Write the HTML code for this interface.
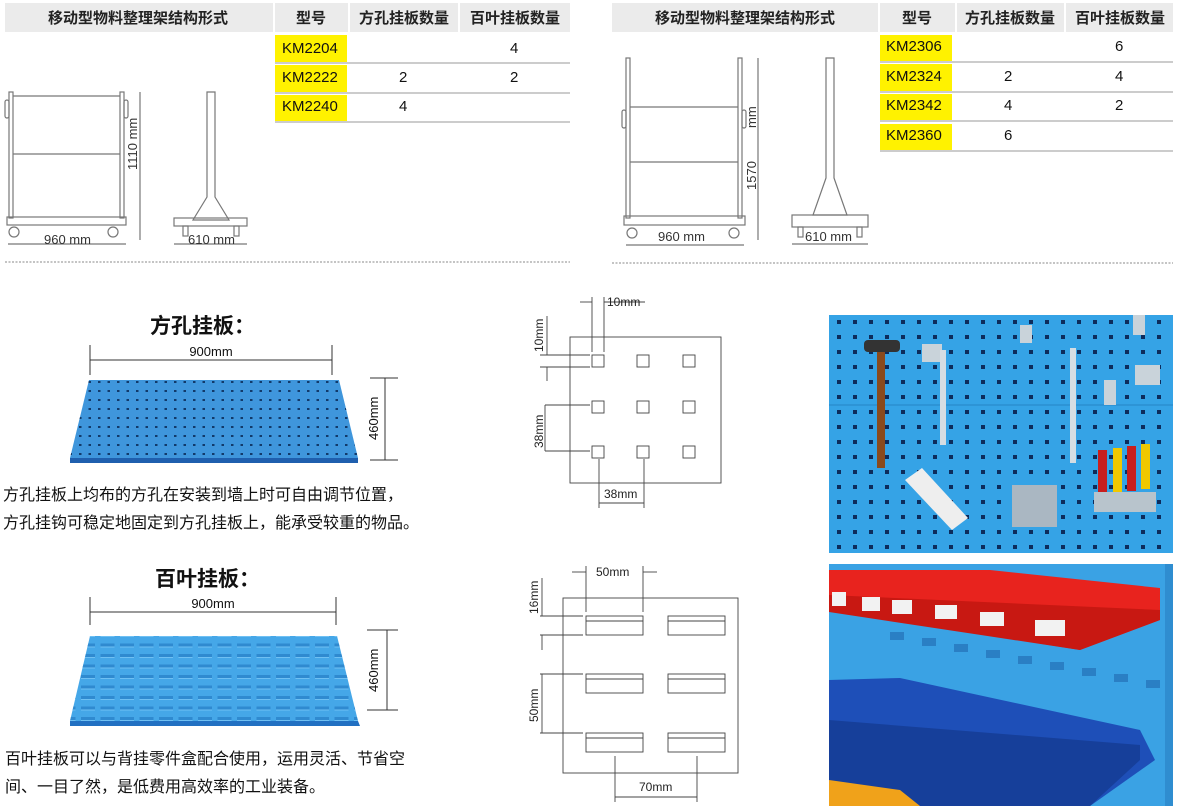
<!DOCTYPE html>
<html><head><meta charset="utf-8">
<style>
html,body{margin:0;padding:0;background:#fff;}
body{width:1180px;height:807px;overflow:hidden;position:relative;font-family:"Liberation Sans","Noto Sans CJK SC",sans-serif;}
.t{position:absolute;white-space:nowrap;color:#111;}
</style></head><body>
<svg width="1180" height="807" viewBox="0 0 1180 807" xmlns="http://www.w3.org/2000/svg" style="position:absolute;left:0;top:0" font-family="Liberation Sans, Noto Sans CJK SC, sans-serif">
<defs>
<pattern id="holes" x="0" y="0" width="9.5" height="9" patternUnits="userSpaceOnUse"><rect x="3" y="3" width="2.5" height="2" fill="#123a6a"/></pattern>
<pattern id="slots" x="0" y="0" width="19.5" height="10.5" patternUnits="userSpaceOnUse"><rect x="3" y="3" width="14" height="3" fill="#2f8ad0"/><rect x="3" y="6" width="14" height="1" fill="#6fc0f3"/></pattern>
<pattern id="ph" x="0" y="0" width="16" height="15" patternUnits="userSpaceOnUse"><rect x="5" y="5" width="4" height="4" fill="#0d2c5c"/></pattern>
</defs>

<!-- Table headers -->
<g font-weight="bold" font-size="15" fill="#222" text-anchor="middle">
<rect x="5" y="3" width="268" height="29" fill="#ebebeb"/>
<rect x="275" y="3" width="73" height="29" fill="#ebebeb"/>
<rect x="350" y="3" width="108" height="29" fill="#ebebeb"/>
<rect x="460" y="3" width="110" height="29" fill="#ebebeb"/>
<text x="138" y="23">移动型物料整理架结构形式</text>
<text x="311" y="23">型号</text>
<text x="404" y="23">方孔挂板数量</text>
<text x="515" y="23">百叶挂板数量</text>

<rect x="612" y="3" width="266" height="29" fill="#ebebeb"/>
<rect x="880" y="3" width="75" height="29" fill="#ebebeb"/>
<rect x="957" y="3" width="107" height="29" fill="#ebebeb"/>
<rect x="1066" y="3" width="107" height="29" fill="#ebebeb"/>
<text x="745" y="23">移动型物料整理架结构形式</text>
<text x="917" y="23">型号</text>
<text x="1010" y="23">方孔挂板数量</text>
<text x="1120" y="23">百叶挂板数量</text>
</g>

<!-- left rows -->
<g font-size="15" fill="#111">
<rect x="275" y="35" width="72" height="27" fill="#fff200"/>
<rect x="275" y="65" width="72" height="27" fill="#fff200"/>
<rect x="275" y="95" width="72" height="26" fill="#fff200"/>
<line x1="275" y1="63" x2="570" y2="63" stroke="#999"/>
<line x1="275" y1="93" x2="570" y2="93" stroke="#999"/>
<line x1="275" y1="122" x2="570" y2="122" stroke="#999"/>
<text x="282" y="53">KM2204</text><text x="282" y="82">KM2222</text><text x="282" y="111">KM2240</text>
<text x="510" y="53">4</text><text x="399" y="82">2</text><text x="510" y="82">2</text><text x="399" y="111">4</text>

<rect x="880" y="35" width="72" height="26" fill="#fff200"/>
<rect x="880" y="64" width="72" height="27" fill="#fff200"/>
<rect x="880" y="94" width="72" height="26" fill="#fff200"/>
<rect x="880" y="124" width="72" height="26" fill="#fff200"/>
<line x1="880" y1="62" x2="1173" y2="62" stroke="#999"/>
<line x1="880" y1="92" x2="1173" y2="92" stroke="#999"/>
<line x1="880" y1="121" x2="1173" y2="121" stroke="#999"/>
<line x1="880" y1="151" x2="1173" y2="151" stroke="#999"/>
<text x="886" y="51">KM2306</text><text x="886" y="81">KM2324</text><text x="886" y="110">KM2342</text><text x="886" y="140">KM2360</text>
<text x="1115" y="51">6</text><text x="1004" y="81">2</text><text x="1115" y="81">4</text><text x="1004" y="110">4</text><text x="1115" y="110">2</text><text x="1004" y="140">6</text>
</g>

<!-- dashed separators -->
<line x1="5" y1="262" x2="570" y2="262" stroke="#888" stroke-dasharray="2,1.5"/>
<line x1="612" y1="263" x2="1173" y2="263" stroke="#888" stroke-dasharray="2,1.5"/>

<!-- left frame drawing -->
<g fill="none" stroke="#777" stroke-width="1.2">
<rect x="9" y="92" width="4" height="126"/><rect x="120" y="92" width="4" height="126"/>
<line x1="13" y1="96" x2="120" y2="96"/><line x1="13" y1="154" x2="120" y2="154"/>
<rect x="5" y="100" width="4" height="18" rx="2"/><rect x="124" y="100" width="4" height="18" rx="2"/>
<rect x="7" y="217" width="119" height="8"/>
<circle cx="14" cy="232" r="5"/><circle cx="113" cy="232" r="5"/>
<line x1="140" y1="92" x2="140" y2="240"/>
<line x1="8" y1="244" x2="126" y2="244"/>
<path d="M207 92 h8 v105 l14 23 h-36 l14 -23 z"/>
<rect x="174" y="218" width="73" height="8"/>
<rect x="183" y="226" width="5" height="10"/><rect x="234" y="226" width="5" height="10"/>
<line x1="174" y1="244" x2="247" y2="244"/>
</g>
<g font-size="13" fill="#333">
<text x="44" y="244">960 mm</text>
<text x="188" y="244">610 mm</text>
<text transform="translate(137,170) rotate(-90)">1110 mm</text>
</g>

<!-- right frame drawing -->
<g fill="none" stroke="#777" stroke-width="1.2">
<rect x="626" y="58" width="4" height="160"/><rect x="738" y="58" width="4" height="160"/>
<line x1="630" y1="107" x2="738" y2="107"/><line x1="630" y1="162" x2="738" y2="162"/>
<rect x="622" y="110" width="4" height="18" rx="2"/><rect x="742" y="110" width="4" height="18" rx="2"/>
<rect x="624" y="216" width="121" height="9"/>
<circle cx="632" cy="233" r="5"/><circle cx="734" cy="233" r="5"/>
<line x1="758" y1="58" x2="758" y2="240"/>
<line x1="626" y1="245" x2="744" y2="245"/>
<path d="M826 58 h8 v120 l13 37 h-34 l13 -37 z"/>
<rect x="792" y="215" width="76" height="12"/>
<rect x="798" y="227" width="5" height="10"/><rect x="857" y="227" width="5" height="10"/>
<line x1="792" y1="244" x2="868" y2="244"/>
</g>
<g font-size="13" fill="#333">
<text x="658" y="241">960 mm</text>
<text x="805" y="241">610 mm</text>
<text transform="translate(756,128) rotate(-90)">mm</text>
<text transform="translate(756,190) rotate(-90)">1570</text>
</g>

<!-- square hole panel -->
<text x="150" y="333" font-size="21" font-weight="bold" fill="#111">方孔挂板：</text>
<line x1="90" y1="360" x2="332" y2="360" stroke="#333"/>
<line x1="90" y1="345" x2="90" y2="375" stroke="#333"/><line x1="332" y1="345" x2="332" y2="375" stroke="#333"/>
<text x="211" y="356" font-size="13" text-anchor="middle" fill="#111">900mm</text>
<polygon points="89,380 339,380 358,458 70,458" fill="#3f96dc"/>
<polygon points="89,380 339,380 358,458 70,458" fill="url(#holes)"/>
<polygon points="70,458 358,458 358,463 70,463" fill="#1f5fae"/>
<line x1="385" y1="378" x2="385" y2="460" stroke="#333"/>
<line x1="370" y1="378" x2="398" y2="378" stroke="#333"/><line x1="370" y1="460" x2="398" y2="460" stroke="#333"/>
<text transform="translate(378,440) rotate(-90)" font-size="13" fill="#111">460mm</text>
<text x="3" y="500" font-size="16" fill="#111">方孔挂板上均布的方孔在安装到墙上时可自由调节位置，</text>
<text x="3" y="528" font-size="16" fill="#111">方孔挂钩可稳定地固定到方孔挂板上，能承受较重的物品。</text>

<!-- louver panel -->
<text x="155" y="586" font-size="21" font-weight="bold" fill="#111">百叶挂板：</text>
<line x1="90" y1="612" x2="336" y2="612" stroke="#333"/>
<line x1="90" y1="597" x2="90" y2="625" stroke="#333"/><line x1="336" y1="597" x2="336" y2="625" stroke="#333"/>
<text x="213" y="608" font-size="13" text-anchor="middle" fill="#111">900mm</text>
<polygon points="90,636 337,636 358,721 70,721" fill="#45a7e8"/>
<polygon points="90,636 337,636 358,721 70,721" fill="url(#slots)"/>
<polygon points="70,721 358,721 360,726 70,726" fill="#2170c2"/>
<line x1="387" y1="630" x2="387" y2="710" stroke="#333"/>
<line x1="367" y1="630" x2="398" y2="630" stroke="#333"/><line x1="367" y1="710" x2="398" y2="710" stroke="#333"/>
<text transform="translate(378,692) rotate(-90)" font-size="13" fill="#111">460mm</text>
<text x="5" y="764" font-size="16" fill="#111">百叶挂板可以与背挂零件盒配合使用，运用灵活、节省空</text>
<text x="5" y="792" font-size="16" fill="#111">间、一目了然，是低费用高效率的工业装备。</text>

<!-- square hole diagram -->
<g fill="none" stroke="#444" stroke-width="0.9">
<rect x="570" y="337" width="151" height="146"/>
<rect x="592" y="355" width="12" height="12"/><rect x="637" y="355" width="12" height="12"/><rect x="683" y="355" width="12" height="12"/>
<rect x="592" y="401" width="12" height="12"/><rect x="637" y="401" width="12" height="12"/><rect x="683" y="401" width="12" height="12"/>
<rect x="592" y="446" width="12" height="12"/><rect x="637" y="446" width="12" height="12"/><rect x="683" y="446" width="12" height="12"/>
<line x1="592" y1="297" x2="592" y2="352"/><line x1="604" y1="297" x2="604" y2="352"/>
<line x1="580" y1="302" x2="592" y2="302"/><line x1="604" y1="302" x2="645" y2="302"/>
<line x1="540" y1="355" x2="590" y2="355"/><line x1="540" y1="367" x2="590" y2="367"/>
<line x1="547" y1="316" x2="547" y2="355"/><line x1="547" y1="367" x2="547" y2="381"/>
<line x1="545" y1="405" x2="590" y2="405"/><line x1="545" y1="451" x2="590" y2="451"/>
<line x1="545" y1="405" x2="545" y2="451"/>
<line x1="599" y1="459" x2="599" y2="508"/><line x1="644" y1="459" x2="644" y2="508"/>
<line x1="599" y1="503" x2="644" y2="503"/>
</g>
<g font-size="12" fill="#222">
<text x="607" y="306">10mm</text>
<text transform="translate(543,352) rotate(-90)">10mm</text>
<text transform="translate(543,448) rotate(-90)">38mm</text>
<text x="604" y="498">38mm</text>
</g>

<!-- louver diagram -->
<g fill="none" stroke="#444" stroke-width="0.9">
<rect x="563" y="598" width="175" height="175"/>
<rect x="586" y="616" width="57" height="19"/><line x1="586" y1="621" x2="643" y2="621"/>
<rect x="668" y="616" width="57" height="19"/><line x1="668" y1="621" x2="725" y2="621"/>
<rect x="586" y="674" width="57" height="19"/><line x1="586" y1="679" x2="643" y2="679"/>
<rect x="668" y="674" width="57" height="19"/><line x1="668" y1="679" x2="725" y2="679"/>
<rect x="586" y="733" width="57" height="19"/><line x1="586" y1="738" x2="643" y2="738"/>
<rect x="668" y="733" width="57" height="19"/><line x1="668" y1="738" x2="725" y2="738"/>
<line x1="586" y1="566" x2="586" y2="612"/><line x1="643" y1="566" x2="643" y2="612"/>
<line x1="572" y1="572" x2="586" y2="572"/><line x1="643" y1="572" x2="657" y2="572"/>
<line x1="540" y1="616" x2="583" y2="616"/><line x1="540" y1="635" x2="583" y2="635"/>
<line x1="542" y1="578" x2="542" y2="616"/><line x1="542" y1="635" x2="542" y2="650"/>
<line x1="540" y1="674" x2="583" y2="674"/><line x1="540" y1="733" x2="583" y2="733"/>
<line x1="542" y1="674" x2="542" y2="733"/>
<line x1="615" y1="756" x2="615" y2="802"/><line x1="697" y1="756" x2="697" y2="802"/>
<line x1="615" y1="797" x2="697" y2="797"/>
</g>
<g font-size="12" fill="#222">
<text x="596" y="576">50mm</text>
<text transform="translate(538,614) rotate(-90)">16mm</text>
<text transform="translate(538,722) rotate(-90)">50mm</text>
<text x="639" y="791">70mm</text>
</g>

<!-- photo 1 -->
<rect x="829" y="315" width="344" height="238" fill="#35a3e6"/>
<rect x="829" y="315" width="344" height="238" fill="url(#ph)"/>
<line x1="829" y1="405" x2="1173" y2="405" stroke="#2b8fd0" stroke-width="1.5"/>
<rect x="877" y="350" width="8" height="118" fill="#8a4a1c"/>
<rect x="864" y="340" width="36" height="12" rx="4" fill="#333"/>
<rect x="922" y="344" width="20" height="18" fill="#c9d3da"/>
<rect x="940" y="350" width="6" height="95" fill="#d5dde3"/>
<rect x="1070" y="348" width="6" height="115" fill="#d5dde3"/>
<rect x="1020" y="325" width="12" height="18" fill="#c9d3da"/>
<rect x="1133" y="315" width="12" height="20" fill="#c9d3da"/>
<rect x="1135" y="365" width="25" height="20" fill="#c9d3da"/>
<rect x="1104" y="380" width="12" height="25" fill="#c9d3da"/>
<polygon points="905,480 922,468 968,518 952,530" fill="#eeeeee"/>
<rect x="1012" y="485" width="45" height="42" fill="#aab7c2"/>
<rect x="1098" y="450" width="9" height="45" fill="#c81e1e"/><rect x="1113" y="448" width="9" height="45" fill="#f0c800"/>
<rect x="1127" y="446" width="9" height="45" fill="#c81e1e"/><rect x="1141" y="444" width="9" height="45" fill="#f0c800"/>
<rect x="1094" y="492" width="62" height="20" fill="#b8c4cc"/>

<!-- photo 2 -->
<rect x="829" y="564" width="344" height="242" fill="#3aa2e4"/>
<g fill="#2a7fc4">
<rect x="890" y="632" width="14" height="8"/><rect x="922" y="638" width="14" height="8"/><rect x="954" y="644" width="14" height="8"/>
<rect x="986" y="650" width="14" height="8"/><rect x="1018" y="656" width="14" height="8"/><rect x="1050" y="662" width="14" height="8"/>
<rect x="1082" y="668" width="14" height="8"/><rect x="1114" y="674" width="14" height="8"/><rect x="1146" y="680" width="14" height="8"/>
</g>
<polygon points="829,570 990,570 1160,588 1160,620 1080,650 829,610" fill="#e8231e"/>
<polygon points="829,595 1160,610 1160,620 1080,650 829,612" fill="#c81812"/>
<g fill="#f2f2f2"><rect x="832" y="592" width="14" height="14"/><rect x="862" y="597" width="18" height="14"/><rect x="892" y="600" width="20" height="14"/><rect x="935" y="605" width="22" height="14"/><rect x="980" y="612" width="24" height="14"/><rect x="1035" y="620" width="30" height="16"/></g>
<polygon points="829,680 900,678 1140,730 1155,760 1090,806 829,806" fill="#1e4fb8"/>
<polygon points="829,720 1140,745 1140,760 1090,806 829,806" fill="#163f9a"/>
<polygon points="829,780 900,790 920,806 829,806" fill="#f0a21a"/>
<rect x="1165" y="564" width="8" height="242" fill="#2f8dd0"/>
</svg>
</body></html>
